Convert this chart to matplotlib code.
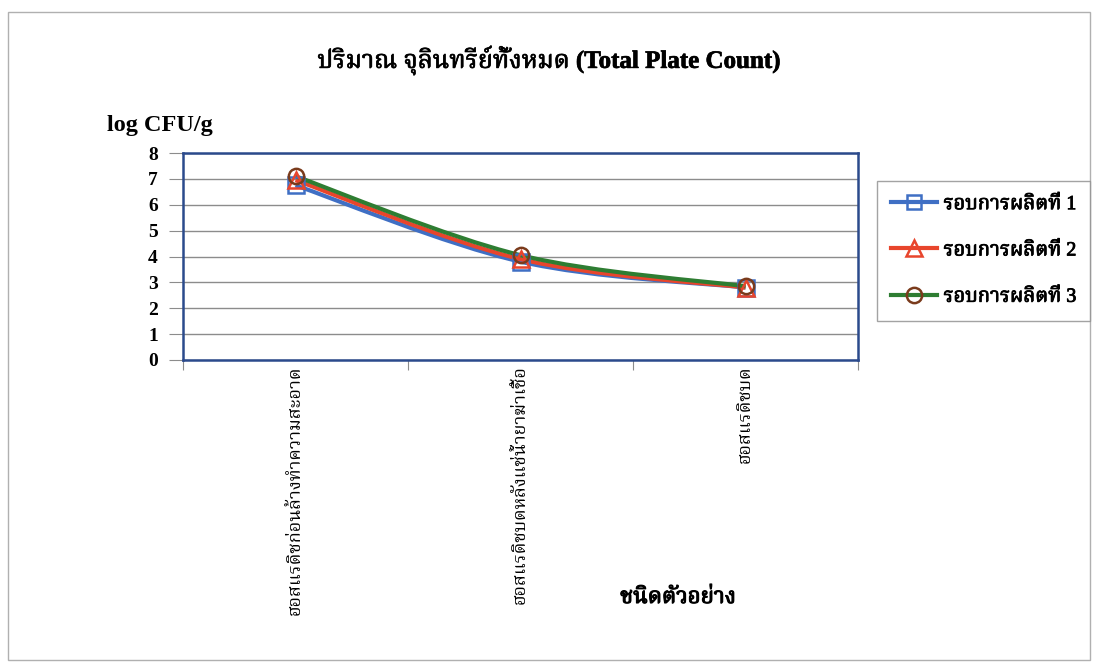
import matplotlib
matplotlib.use('Agg')
import matplotlib.pyplot as plt
from matplotlib import font_manager, ft2font
from matplotlib import patheffects
from matplotlib.path import Path
from matplotlib.patches import PathPatch, Rectangle
from matplotlib.lines import Line2D

# Dane: log CFU/g dla trzech rund produkcyjnych
categories = ['ฮอสแรดิชก่อนล้างทำความสะอาด',
              'ฮอสแรดิชบดหลังแช่น้ำยาฆ่าเชื้อ',
              'ฮอสแรดิชบด']
run1 = [6.75, 3.80, 2.80]
run2 = [6.95, 3.90, 2.80]
run3 = [7.10, 4.05, 2.85]
series_names = ['รอบการผลิตที่ 1', 'รอบการผลิตที่ 2', 'รอบการผลิตที่ 3']
y_ticks = [0, 1, 2, 3, 4, 5, 6, 7, 8]


def thai_family():
    # szukamy czcionki z glifami tajskimi
    names = []
    for f in font_manager.fontManager.ttflist:
        try:
            cmap = ft2font.FT2Font(f.fname).get_charmap()
        except Exception:
            continue
        if 0x0E01 in cmap and f.name not in names:
            names.append(f.name)
    for pref in ['Norasi', 'Noto Serif Thai', 'Garuda', 'Loma', 'Noto Sans Thai', 'Kinnari']:
        if pref in names:
            return pref
    return names[0] if names else None


thai = thai_family()
fam = ['Liberation Serif'] + ([thai] if thai else []) + ['DejaVu Sans']
plt.rcParams['font.family'] = fam


def bold_fx(w):
    # pogrubienie tajskich znaków obrysem (brak odmiany bold)
    return [patheffects.withStroke(linewidth=w, foreground='black')]


fig = plt.figure(figsize=(10.95, 6.65), dpi=100)
fig.patches.append(Rectangle((8 / 1095, 5 / 665), 1082 / 1095, 648 / 665,
                             transform=fig.transFigure, fill=False,
                             edgecolor='#b0b0b0', linewidth=1.0))

ax = fig.add_axes([183 / 1095, 1 - 360 / 665, 675 / 1095, 207 / 665])

x = [0, 1, 2]


def smooth_path(xs, ys):
    # krzywa Beziera typu Catmull-Rom, jak wygładzona linia w Excelu
    pts = list(zip(xs, ys))
    n = len(pts)
    verts = [pts[0]]
    codes = [Path.MOVETO]
    for i in range(n - 1):
        p0 = pts[max(i - 1, 0)]
        p1 = pts[i]
        p2 = pts[i + 1]
        p3 = pts[min(i + 2, n - 1)]
        c1 = (p1[0] + (p2[0] - p0[0]) / 6, p1[1] + (p2[1] - p0[1]) / 6)
        c2 = (p2[0] - (p3[0] - p1[0]) / 6, p2[1] - (p3[1] - p1[1]) / 6)
        verts += [c1, c2, p2]
        codes += [Path.CURVE4] * 3
    return Path(verts, codes)


styles = [
    (run1, '#3f6fc4', 's', '#3f6fc4'),
    (run2, '#e8452c', '^', '#e8452c'),
    (run3, '#2e7d32', 'o', '#7a3b1c'),
]

for vals, col, mk, mec in styles:
    ax.add_patch(PathPatch(smooth_path(x, vals), facecolor='none',
                           edgecolor=col, linewidth=3, zorder=3))
    ax.plot(x, vals, linestyle='none', marker=mk, markersize=11,
            markerfacecolor='none', markeredgecolor=mec,
            markeredgewidth=1.8, zorder=4)

ax.set_xlim(-0.5, 2.5)
ax.set_ylim(0, 8)
ax.set_yticks(y_ticks)
ax.set_yticklabels([str(v) for v in y_ticks], fontsize=14, fontweight='bold')
ax.yaxis.grid(True, color='#8c8c8c', linewidth=1.0)
ax.set_axisbelow(True)

ax.set_xticks([-0.5, 0.5, 1.5, 2.5])
ax.set_xticklabels([])
ax.set_xticks(x, minor=True)
ax.set_xticklabels(categories, minor=True, rotation=90, fontsize=13,
                   va='top', ha='center')
ax.tick_params(axis='x', which='minor', length=0, pad=4)
ax.tick_params(axis='x', which='major', length=7, color='#8c8c8c', direction='out')
ax.tick_params(axis='y', length=10, color='#8c8c8c', direction='out', pad=8)

for s in ax.spines.values():
    s.set_color('#2b4a8c')
    s.set_linewidth(1.8)

fig.text(549 / 1095, 1 - 60 / 665, 'ปริมาณ จุลินทรีย์ทั้งหมด (Total Plate Count)',
         ha='center', va='center', fontsize=18, fontweight='bold',
         path_effects=bold_fx(0.5))
fig.text(107 / 1095, 1 - 125 / 665, 'log CFU/g', ha='left', va='center',
         fontsize=17.5, fontweight='bold')
fig.text(678 / 1095, 1 - 598 / 665, 'ชนิดตัวอย่าง', ha='center', va='center',
         fontsize=16, fontweight='bold', path_effects=bold_fx(0.8))

handles = [
    Line2D([], [], color='#3f6fc4', lw=3, marker='s', ms=10, mfc='none', mec='#3f6fc4', mew=1.8),
    Line2D([], [], color='#e8452c', lw=3, marker='^', ms=11, mfc='none', mec='#e8452c', mew=1.8),
    Line2D([], [], color='#2e7d32', lw=3, marker='o', ms=11, mfc='none', mec='#7a3b1c', mew=1.8),
]
leg = fig.legend(handles, series_names, loc='upper left',
                 bbox_to_anchor=(877 / 1095, 1 - 181 / 665),
                 fontsize=14.5, frameon=True, fancybox=False,
                 edgecolor='#8c8c8c', handlelength=2.3, labelspacing=1.35,
                 borderpad=0.7, handletextpad=0.3, borderaxespad=0)
leg.get_frame().set_linewidth(1.0)
for t in leg.get_texts():
    t.set_path_effects(bold_fx(0.6))

plt.savefig('out.png', dpi=100)
